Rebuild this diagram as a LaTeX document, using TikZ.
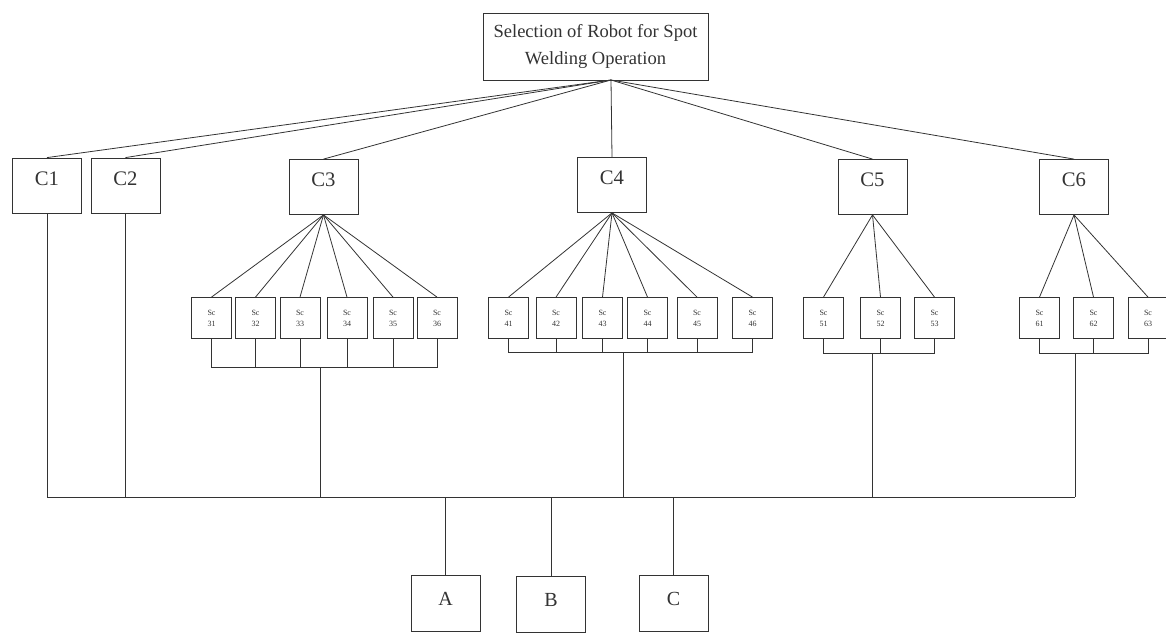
\documentclass[tikz,border=0pt]{standalone}
\usepackage{fontspec}
\setmainfont{Liberation Serif}
\begin{document}
\begin{tikzpicture}
  [x=0.75pt,y=-0.75pt,color=black!80,line width=0.6pt,
   every node/.style={draw,rectangle,inner sep=0pt},
   goal/.style={minimum width=168.75pt,minimum height=50.25pt,align=center,
     font=\fontsize{13.9}{20}\selectfont},
   crit/.style={minimum width=51.75pt,text height=20.25pt,text depth=21pt,
     font=\fontsize{15.5}{18}\selectfont},
   sub/.style={minimum width=30pt,minimum height=30.75pt,align=center,
     font=\fontsize{6}{8.25}\selectfont},
   alt/.style={minimum width=51.75pt,text height=22.5pt,text depth=19.5pt,
     font=\fontsize{15}{18}\selectfont}]
  \useasboundingbox (0,0) rectangle (1166,635);

  \node (goal)[goal] at (595.5,46.5) {Selection of Robot for Spot\\Welding Operation};
  \coordinate (hub) at (611,80);

  \node (c1)[crit] at (47,185.5) {C1};
  \node (c2)[crit] at (125.5,185.5) {C2};
  \node (c3)[crit] at (323.5,187) {C3};
  \node (c4)[crit] at (612,185) {C4};
  \node (c5)[crit] at (872.5,187) {C5};
  \node (c6)[crit] at (1074,187) {C6};

  \foreach \n/\x in {31/211.5,32/255.5,33/300,34/347,35/393,36/437,
                     41/508.5,42/556,43/602.5,44/647.5,45/697,46/752.5,
                     51/823.5,52/880.5,53/934.5,61/1039.5,62/1093.5,63/1148}
    \node (s\n)[sub] at (\x,318) {Sc\\\n};

  \node (a)[alt] at (445.5,603) {A};
  \node (b)[alt] at (551,604) {B};
  \node (c)[alt] at (673.5,603) {C};

  \coordinate (j3) at (320,367);
  \coordinate (j4) at (623,352);
  \coordinate (j5) at (872,353);
  \coordinate (j6) at (1075,353);
  \coordinate (busL) at (47,497);
  \coordinate (busR) at (1075,497);

  \foreach \to in {c1,c2,c3,c4,c5,c6}
    \draw (hub) -- (\to.north);

  \foreach \from/\to in {c3/s31,c3/s32,c3/s33,c3/s34,c3/s35,c3/s36,
                         c4/s41,c4/s42,c4/s43,c4/s44,c4/s45,c4/s46,
                         c5/s51,c5/s52,c5/s53,c6/s61,c6/s62,c6/s63}
    \draw (\from.south) -- (\to.north);

  \foreach \from/\to in {s31/j3,s32/j3,s33/j3,s34/j3,s35/j3,s36/j3,
                         s41/j4,s42/j4,s43/j4,s44/j4,s45/j4,s46/j4,
                         s51/j5,s52/j5,s53/j5,s61/j6,s62/j6,s63/j6}
    \draw (\from.south) |- (\to);

  \draw (busL) -- (busR);
  \foreach \from in {c1.south,c2.south,j3,j4,j5,j6}
    \draw (\from) -- (\from |- busL);
  \foreach \to in {a,b,c}
    \draw (\to.north |- busL) -- (\to.north);

\end{tikzpicture}
\end{document}
